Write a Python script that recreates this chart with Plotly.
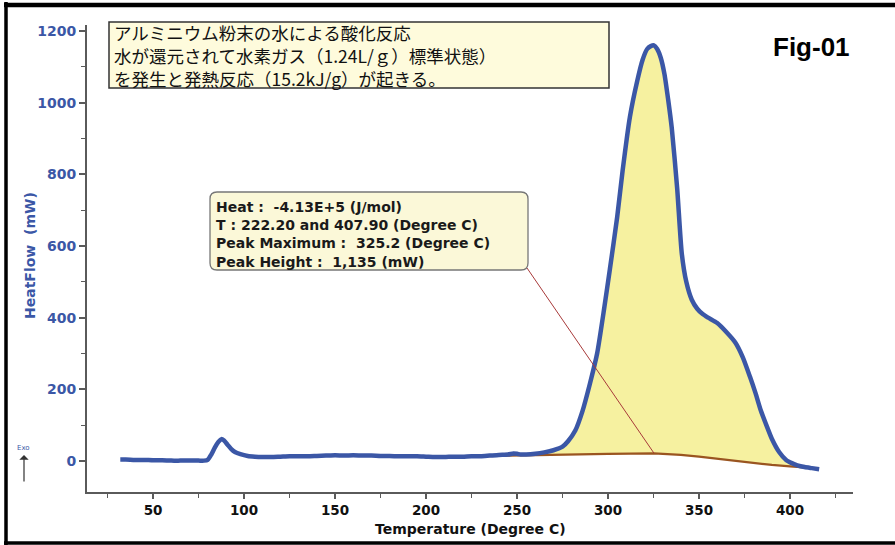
import plotly.graph_objects as go

# ---------------- data ----------------
temp = [32, 35, 40, 45, 50, 55, 60, 65, 70, 75, 78, 80, 82, 84, 86, 87.5, 89, 91, 93, 95, 98,
        102, 106, 110, 115, 120, 125, 130, 135, 140, 145, 150, 155, 160, 165, 170, 175, 180,
        185, 190, 195, 200, 205, 210, 215, 220, 225, 230, 235, 240, 245, 248, 250, 252, 255,
        260, 265, 270, 275, 278, 282, 286, 290, 294, 298, 301, 305, 308, 312, 316, 319, 321.5,
        323.5, 325.2, 327, 329, 331, 333, 335, 338, 340.5, 343, 346, 349, 352, 355, 360, 365,
        370, 374, 378, 381, 384, 387, 390, 394, 398, 401, 404, 408, 412, 416]
heatflow = [4, 4, 3, 3, 2, 2, 1, 1, 1, 1, 1, 3, 18, 38, 54, 61, 57, 45, 33, 25, 19,
            14, 12, 11, 11, 12, 13, 13, 13, 14, 15, 16, 15, 16, 15, 15, 14, 14,
            13, 13, 13, 12, 11, 11, 12, 12, 13, 13, 15, 17, 18, 21, 20, 18, 18,
            20, 24, 30, 40, 55, 85, 140, 215, 300, 430, 535, 680, 810, 960, 1060, 1120, 1150,
            1158, 1160, 1150, 1125, 1080, 1010, 930, 760, 580, 500, 450, 425, 410, 400, 385, 360,
            330, 290, 235, 190, 140, 100, 62, 25, 2, -6, -12, -17, -20, -23]

# integration baseline between the two integration limits
base_temp = [222.2, 240, 260, 280, 300, 325.2, 340, 350, 360, 370, 380, 390, 400, 407.9]
base_flow = [13, 15, 17, 19, 20, 21, 17, 12, 6, 0, -6, -11, -15, -18]

T_START, T_END, PEAK_T = 222.2, 407.9, 325.2

title_lines = ["アルミニウム粉末の水による酸化反応",
               "水が還元されて水素ガス（1.24L/ｇ）標準状態）",
               "を発生と発熱反応（15.2kJ/g）が起きる。"]
stat_lines = ["Heat :  -4.13E+5 (J/mol)",
              "T : 222.20 and 407.90 (Degree C)",
              "Peak Maximum :  325.2 (Degree C)",
              "Peak Height :  1,135 (mW)"]

# ---------------- styles ----------------
BLUE = "#3B57A6"
BROWN = "#9A5520"
FILL = "#F6F1A0"
AXIS = "#5a5a5a"
W, H = 895, 545
L, R, T, B = 87, 853, 25, 492


def px(x):
    return (x - L) / (R - L)


def py(y):
    return (B - y) / (B - T)


# peak segment for fill
seg_t = [T_START] + [t for t in temp if T_START < t < T_END] + [T_END]


def interp(x, xs, ys):
    for i in range(len(xs) - 1):
        if xs[i] <= x <= xs[i + 1]:
            f = (x - xs[i]) / (xs[i + 1] - xs[i])
            return ys[i] + f * (ys[i + 1] - ys[i])
    return ys[-1]


seg_f = [interp(t, temp, heatflow) for t in seg_t]

fig = go.Figure()
fig.add_trace(go.Scatter(x=base_temp, y=base_flow, mode="lines", line=dict(width=0),
                         hoverinfo="skip", showlegend=False))
fig.add_trace(go.Scatter(x=seg_t, y=seg_f, mode="lines", line=dict(width=0),
                         fill="tonexty", fillcolor=FILL, hoverinfo="skip", showlegend=False))
fig.add_trace(go.Scatter(x=base_temp, y=base_flow, mode="lines",
                         line=dict(color=BROWN, width=2.2), showlegend=False))
fig.add_trace(go.Scatter(x=temp, y=heatflow, mode="lines",
                         line=dict(color=BLUE, width=4.5, shape="spline", smoothing=0.6),
                         showlegend=False))

shapes = []
# frame
shapes.append(dict(type="line", xref="paper", yref="paper", x0=px(6), x1=px(6), y0=py(2), y1=py(545),
                   line=dict(color="black", width=3.5)))
shapes.append(dict(type="line", xref="paper", yref="paper", x0=px(4), x1=px(895), y0=py(5), y1=py(5),
                   line=dict(color="black", width=4.5)))
shapes.append(dict(type="line", xref="paper", yref="paper", x0=px(4), x1=px(895), y0=py(543), y1=py(543),
                   line=dict(color="black", width=3.5)))
# title box
shapes.append(dict(type="rect", xref="paper", yref="paper", x0=px(109), x1=px(609), y0=py(88), y1=py(22),
                   fillcolor="#FEFBDC", line=dict(color="#333333", width=1.5), layer="above"))
# rounded stats box
x0, x1, y0, y1, r = 210, 528, 192, 270, 7
pts = [
    f"M{px(x0 + r)},{py(y0)}", f"L{px(x1 - r)},{py(y0)}", f"Q{px(x1)},{py(y0)} {px(x1)},{py(y0 + r)}",
    f"L{px(x1)},{py(y1 - r)}", f"Q{px(x1)},{py(y1)} {px(x1 - r)},{py(y1)}",
    f"L{px(x0 + r)},{py(y1)}", f"Q{px(x0)},{py(y1)} {px(x0)},{py(y1 - r)}",
    f"L{px(x0)},{py(y0 + r)}", f"Q{px(x0)},{py(y0)} {px(x0 + r)},{py(y0)}", "Z"]
shapes.append(dict(type="path", xref="paper", yref="paper", path=" ".join(pts),
                   fillcolor="#FBF8D8", line=dict(color="#777777", width=1.3), layer="above"))
# leader line from stats box to peak maximum on the baseline
shapes.append(dict(type="line", xref="paper", yref="paper", x0=px(527), y0=py(268),
                   x1=px(62 + PEAK_T * 1.82), y1=py(453),
                   line=dict(color="#A83A3A", width=1)))

ann = []
ann.append(dict(xref="paper", yref="paper", x=px(112), y=py(55), xanchor="left",
                yanchor="middle", align="left", text="<br>".join(title_lines), showarrow=False,
                font=dict(family="Noto Sans CJK JP", size=17.5, color="#111111")))
ann.append(dict(xref="paper", yref="paper", x=px(214), y=py(234), xanchor="left",
                yanchor="middle", align="left",
                text="<br>".join("<b>" + s + "</b>" for s in stat_lines), showarrow=False,
                font=dict(family="DejaVu Sans", size=14, color="#1a1a1a")))
ann.append(dict(xref="paper", yref="paper", x=px(811), y=py(47), xanchor="center", yanchor="middle",
                text="<b>Fig-01</b>", showarrow=False,
                font=dict(family="Liberation Sans", size=26, color="black")))
ann.append(dict(xref="paper", yref="paper", x=px(30), y=py(256), xanchor="center", yanchor="middle",
                text="<b>HeatFlow  (mW)</b>", textangle=-90, showarrow=False,
                font=dict(family="DejaVu Sans", size=14, color=BLUE)))
ann.append(dict(xref="paper", yref="paper", x=0.5, y=py(529), xanchor="center", yanchor="middle",
                text="<b>Temperature (Degree C)</b>", showarrow=False,
                font=dict(family="DejaVu Sans", size=14, color="#111111")))
ann.append(dict(xref="paper", yref="paper", x=px(23), y=py(448), xanchor="center", yanchor="middle",
                text="Exo", showarrow=False,
                font=dict(family="DejaVu Sans", size=7, color=BLUE)))
ann.append(dict(xref="paper", yref="paper", x=px(24), y=py(455), text="", showarrow=True,
                axref="pixel", ayref="pixel", ax=0, ay=28, arrowhead=1, arrowsize=1.3,
                arrowwidth=1.2, arrowcolor="#333333"))

fig.update_layout(
    width=W, height=H, margin=dict(l=L, r=W - R, t=T, b=H - B),
    paper_bgcolor="white", plot_bgcolor="white",
    shapes=shapes, annotations=ann, showlegend=False,
    xaxis=dict(range=[13.7, 434.6], tick0=0, dtick=50, ticks="outside", ticklen=5,
               tickcolor=AXIS, tickwidth=1.5, showline=True, linecolor=AXIS, linewidth=2,
               showgrid=False, zeroline=False,
               tickfont=dict(family="DejaVu Sans", size=13.5, color="#111111", weight="bold"),
               minor=dict(dtick=25, ticks="outside", ticklen=4, tickcolor=AXIS, tickwidth=1)),
    yaxis=dict(range=[-86.6, 1217], tick0=0, dtick=200, ticks="outside", ticklen=6,
               tickcolor=AXIS, tickwidth=1.5, showline=True, linecolor=AXIS, linewidth=2,
               showgrid=False, zeroline=False,
               tickfont=dict(family="DejaVu Sans", size=14, color=BLUE, weight="bold"),
               minor=dict(dtick=100, ticks="outside", ticklen=4, tickcolor=AXIS, tickwidth=1)),
)

fig.write_html("out.html")
